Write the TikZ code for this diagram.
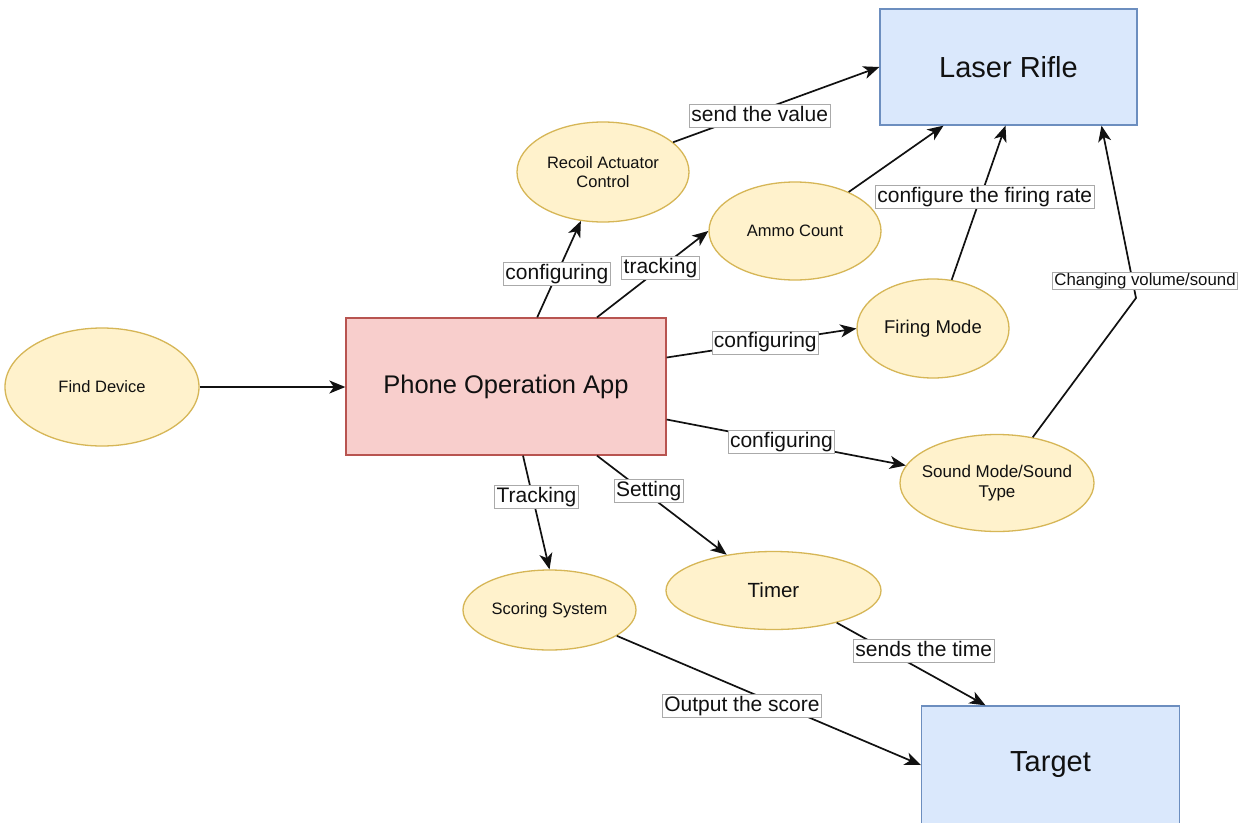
\documentclass[tikz,border=0pt]{standalone}
\usepackage{fontspec}
\setmainfont{Liberation Sans}
\usetikzlibrary{arrows.meta,shapes.geometric}
\definecolor{yfill}{HTML}{FFF2CC}
\definecolor{ydraw}{HTML}{D6B656}
\definecolor{rfill}{HTML}{F8CECC}
\definecolor{rdraw}{HTML}{B85450}
\definecolor{bfill}{HTML}{DAE8FC}
\definecolor{bdraw}{HTML}{6C8EBF}
\definecolor{lblborder}{HTML}{AAAAAA}
\definecolor{ink}{HTML}{111111}
\begin{document}
\begin{tikzpicture}[x=1pt,y=-1pt,
  ell/.style={ellipse, draw=ydraw, fill=yfill, line width=1.3pt, inner xsep=-12pt, inner ysep=0pt,
    align=center, text=ink, font=\fontsize{16.5}{19}\selectfont},
  box/.style={rectangle, line width=1.3pt, inner sep=0pt, text=ink},
  bluebox/.style={box, draw=bdraw, fill=bfill, font=\fontsize{29}{34}\selectfont},
  conn/.style={draw=ink, line width=1.7pt, -{Stealth[length=16pt,width=13pt,inset=4.5pt]}},
  lbl/.style={fill=white, draw=lblborder, line width=0.8pt, inner xsep=2pt, inner ysep=1.5pt,
    text height=15.5pt, text depth=4.5pt, text=ink, font=\fontsize{21}{25}\selectfont},
  smalllbl/.style={lbl, inner ysep=1pt, text height=12pt, text depth=3.5pt, font=\fontsize{16.8}{19}\selectfont},
]
\useasboundingbox (0,0) rectangle (1247,822);
\fill[white] (0,0) rectangle (1247,822);

% main blocks
\node[bluebox, minimum width=257pt, minimum height=116pt] (laser) at (1008.5,67) {Laser Rifle};
\node[box, draw=rdraw, fill=rfill, minimum width=320pt, minimum height=137pt,
      font=\fontsize{25.5}{30}\selectfont] (phone) at (506,386.5) {Phone Operation App};
\node[bluebox, minimum width=258pt, minimum height=118pt] (target) at (1050.5,765) {Target};

% ellipses
\node[ell, minimum width=194pt, minimum height=118pt] (find) at (102,387) {Find Device};
\node[ell, minimum width=172pt, minimum height=100pt] (recoil) at (603,172) {Recoil Actuator\\Control};
\node[ell, minimum width=172pt, minimum height=98pt] (ammo) at (795,231) {Ammo Count};
\node[ell, minimum width=152pt, minimum height=99pt, font=\fontsize{18.5}{22}\selectfont] (firing) at (933,328.5) {Firing Mode};
\node[ell, minimum width=194pt, minimum height=97pt, font=\fontsize{17}{20}\selectfont] (sound) at (997,483) {Sound Mode/Sound\\Type};
\node[ell, minimum width=215pt, minimum height=78pt, font=\fontsize{20.5}{24}\selectfont] (timer) at (773.5,590.5) {Timer};
\node[ell, minimum width=173pt, minimum height=80pt] (scoring) at (549.5,610) {Scoring System};

\coordinate (bend) at (1136,298);

% connectors
\draw[conn] (find) -- (phone.west |- find);
\draw[conn] (phone) -- node[lbl, pos=0.45] {configuring} (recoil);
\draw[conn] ([xshift=91pt]phone.north) -- node[lbl, pos=0.57] {tracking} (ammo.west);
\draw[conn] ([yshift=29pt]phone.east) -- node[lbl, pos=0.52] {configuring} (firing.west);
\draw[conn] ([yshift=-33pt]phone.east) -- node[lbl, pos=0.48] {configuring} (sound);
\draw[conn] ([xshift=17pt]phone.south) -- node[lbl, pos=0.36, xshift=4pt] {Tracking} (scoring.north);
\draw[conn] ([xshift=91pt]phone.south) -- node[lbl, pos=0.36, xshift=5pt] {Setting} (timer);
\draw[conn] (recoil.23) -- node[lbl, pos=0.42, yshift=-5pt] {send the value} (laser.west);
\draw[conn] (ammo.36) -- ([xshift=-65pt]laser.south);
\draw[conn] (firing.69) -- node[lbl, pos=0.54, xshift=4pt] {configure the firing rate} ([xshift=-3pt]laser.south);
\draw[conn] (sound.52) -- (bend) -- node[smalllbl, pos=0.1, xshift=12.5pt] {Changing volume/sound} ([xshift=93pt]laser.south);
\draw[conn] (timer.-27) -- node[lbl, pos=0.343, xshift=36pt] {sends the time} ([xshift=-65pt]target.north);
\draw[conn] (scoring.-21.5) -- node[lbl, pos=0.54, xshift=-39pt] {Output the score} (target.west);
\end{tikzpicture}
\end{document}
